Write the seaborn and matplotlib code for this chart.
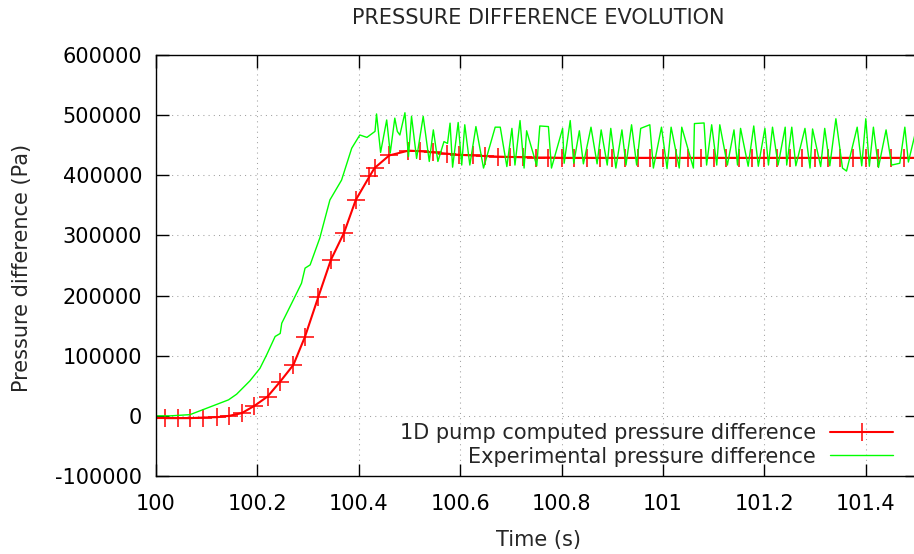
import matplotlib
matplotlib.use("Agg")
import matplotlib.pyplot as plt
from matplotlib.ticker import MultipleLocator, FormatStrFormatter, FuncFormatter
import seaborn as sns

# 1D pump computation (time in s, pressure difference in Pa)
sim_time = [100.000, 100.018, 100.043, 100.068, 100.093, 100.120, 100.144, 100.169,
            100.194, 100.220, 100.245, 100.271, 100.294, 100.320, 100.345, 100.371,
            100.394, 100.421, 100.431, 100.460, 100.498, 100.521, 100.547, 100.573,
            100.598, 100.625, 100.649, 100.675, 100.698, 100.724, 100.750, 100.774,
            100.800, 100.825, 100.850, 100.875, 100.900, 100.925, 100.950, 100.975,
            101.000, 101.025, 101.050, 101.075, 101.100, 101.125, 101.150, 101.175,
            101.200, 101.225, 101.250, 101.275, 101.300, 101.325, 101.350, 101.375,
            101.400, 101.425, 101.450, 101.475, 101.500]
sim_pa = [-3800, -3800, -3800, -3800, -2800, -2200, 0, 4500,
          16600, 32100, 57000, 84800, 131900, 197400, 259400, 304700,
          359000, 398000, 412000, 433000, 441000, 440000, 438000, 436000,
          434000, 433000, 432000, 431000, 430500, 430000, 429500, 429500,
          429000, 429000, 429000, 429000, 429000, 429000, 429000, 429000,
          429000, 429000, 429000, 429000, 429000, 429000, 429000, 429000,
          429000, 429000, 429000, 429000, 429000, 429000, 429000, 429000,
          429000, 429000, 429000, 429000, 429000]

# experimental measurement
exp_time = [100.000, 100.028, 100.067, 100.143, 100.159, 100.185, 100.205, 100.218,
            100.235, 100.245, 100.248, 100.271, 100.287, 100.294, 100.304, 100.323,
            100.343, 100.366, 100.386, 100.402, 100.416, 100.432, 100.435, 100.443,
            100.455, 100.462, 100.471, 100.476, 100.481, 100.491, 100.498, 100.504,
            100.514, 100.527, 100.539, 100.547, 100.556, 100.568, 100.575, 100.580,
            100.585, 100.596, 100.603, 100.609, 100.619, 100.631, 100.646, 100.669,
            100.679, 100.692, 100.702, 100.708, 100.718, 100.726, 100.731, 100.751,
            100.757, 100.774, 100.780, 100.802, 100.805, 100.817, 100.824, 100.835,
            100.843, 100.858, 100.870, 100.878, 100.890, 100.897, 100.907, 100.919,
            100.927, 100.938, 100.948, 100.956, 100.974, 100.981, 100.997, 101.008,
            101.016, 101.032, 101.037, 101.060, 101.062, 101.081, 101.086, 101.096,
            101.106, 101.112, 101.127, 101.140, 101.147, 101.153, 101.168, 101.179,
            101.188, 101.201, 101.208, 101.216, 101.227, 101.241, 101.244, 101.254,
            101.262, 101.280, 101.290, 101.295, 101.311, 101.319, 101.329, 101.341,
            101.354, 101.362, 101.383, 101.392, 101.400, 101.407, 101.415, 101.425,
            101.440, 101.451, 101.467, 101.477, 101.484, 101.499]
exp_pa = [0, 0, 2000, 26600, 36000, 58000, 79000, 101000,
          132000, 137000, 154000, 193000, 220500, 245600, 251000, 295500,
          359000, 392000, 445000, 467000, 463000, 473000, 502000, 438000,
          492000, 437000, 495000, 473000, 467000, 504000, 431000, 498000,
          428000, 498000, 423000, 475500, 423000, 456000, 453000, 486700,
          413500, 487800, 417000, 484000, 417000, 481000, 412000, 480000,
          480000, 414500, 478000, 417000, 491000, 412000, 474000, 415700,
          482000, 481000, 412000, 478000, 420000, 491000, 420000, 474000,
          419000, 480000, 419000, 475500, 417000, 478000, 412000, 475500,
          417000, 484000, 417000, 478000, 484000, 412000, 480000, 411000,
          480000, 412000, 480000, 412000, 486000, 487000, 417000, 484000,
          417000, 484000, 417000, 475500, 417000, 478000, 415000, 482000,
          415000, 478000, 417000, 480000, 417000, 480000, 417000, 480000,
          415700, 478000, 412000, 477000, 414500, 478000, 415700, 494000,
          412000, 407000, 480000, 415700, 494000, 415000, 480000, 413000,
          475500, 417000, 420000, 480000, 422000, 475000]

sim_label = "1D pump computed pressure difference"
exp_label = "Experimental pressure difference"

sns.set_style("ticks")
plt.rcParams["font.family"] = ["DejaVu Sans"]

fig = plt.figure(figsize=(9.14, 5.54), dpi=100)
ax = fig.add_axes([156 / 914, 78 / 554, 760.5 / 914, 421 / 554])

# first segment without a marker (the point sits on the left border)
sns.lineplot(x=sim_time[:2], y=sim_pa[:2], color="#ff0000", lw=1.5, ax=ax)
sns.lineplot(x=sim_time[1:], y=sim_pa[1:], color="#ff0000", lw=1.5,
             marker="+", markersize=12.5, markeredgewidth=1.1,
             markeredgecolor="#ff0000", label=sim_label, ax=ax)
sns.lineplot(x=exp_time, y=exp_pa, color="#00ff00", lw=1.0,
             label=exp_label, ax=ax)

ax.set_xlim(100, 101.5)
ax.set_ylim(-100000, 600000)
ax.xaxis.set_major_locator(MultipleLocator(0.2))
ax.xaxis.set_major_formatter(FormatStrFormatter("%g"))
ax.yaxis.set_major_locator(MultipleLocator(100000))
ax.yaxis.set_major_formatter(FuncFormatter(lambda v, p: f"{v:.0f}"))
ax.tick_params(direction="in", length=9, width=1, top=True, right=True,
               labelsize=15, colors="black")
ax.tick_params(axis="x", pad=13)
ax.tick_params(axis="y", pad=10)
ax.grid(True, color="#a0a0a0", lw=0.75, ls=(0, (1, 4)))
for s in ax.spines.values():
    s.set_linewidth(1.0)
    s.set_color("black")
ax.set_xlabel("")
ax.set_ylabel("")

ax.legend(loc="lower right", bbox_to_anchor=(0.969, 0.022), frameon=False,
          markerfirst=False, fontsize=15, handlelength=3.0, handletextpad=0.7,
          labelspacing=0.17, borderpad=0, borderaxespad=0)

fig.text(538 / 914, 1 - 18 / 554, "PRESSURE DIFFERENCE EVOLUTION",
         ha="center", va="center", fontsize=15)
fig.text(538 / 914, 1 - 540 / 554, "Time (s)", ha="center", va="center",
         fontsize=15)
fig.text(22 / 914, 1 - 268 / 554, "Pressure difference (Pa)", ha="center",
         va="center", rotation=90, fontsize=15)

fig.savefig("out.png", dpi=100)
